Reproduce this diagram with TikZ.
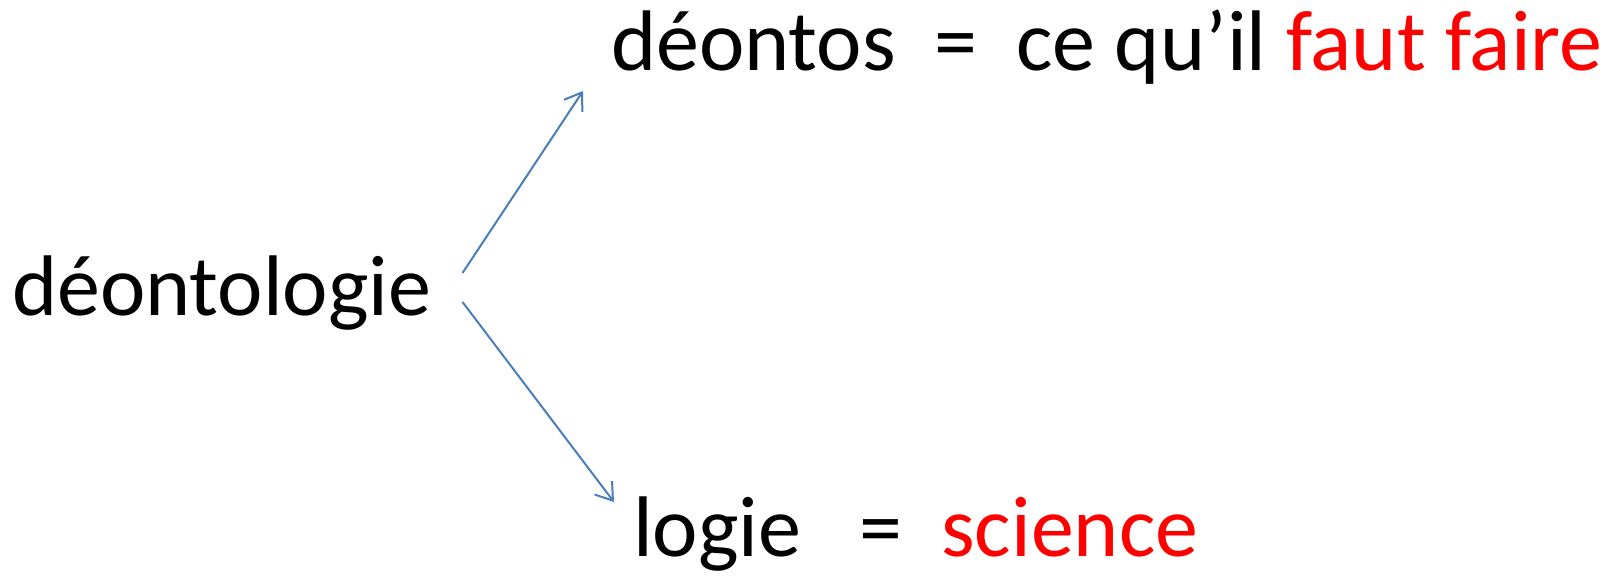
\documentclass[tikz,border=0pt]{standalone}
\usepackage{fontspec}
\setmainfont{Carlito}
\usetikzlibrary{arrows.meta}
\definecolor{arrblue}{HTML}{4A7EBB}
\definecolor{hired}{HTML}{FF0000}
\tikzset{
  word/.style={anchor=base west, inner sep=0pt, font=\fontsize{86}{100}\selectfont},
  arr/.style={draw=arrblue, line width=2pt, -{Straight Barb[length=16pt,width=22pt,line width=2pt]}}
}
\begin{document}
\begin{tikzpicture}[x=1pt,y=-1pt]
\useasboundingbox (0,0) rectangle (1614,576);
\node[word] (d) at (12,315) {déontologie};
\node[word] (top) at (611,70) {déontos\ \ =\ \ ce qu’il \textcolor{hired}{faut faire}};
\node[word] (bot) at (633,556) {logie\ \ \ =\ \ \textcolor{hired}{science}};
\draw[arr] ([shift={(31,-42)}]d.base east) -- ([shift={(-28,21)}]top.base west);
\draw[arr] ([shift={(31,-13)}]d.base east) -- ([shift={(-19,-54)}]bot.base west);
\end{tikzpicture}
\end{document}
